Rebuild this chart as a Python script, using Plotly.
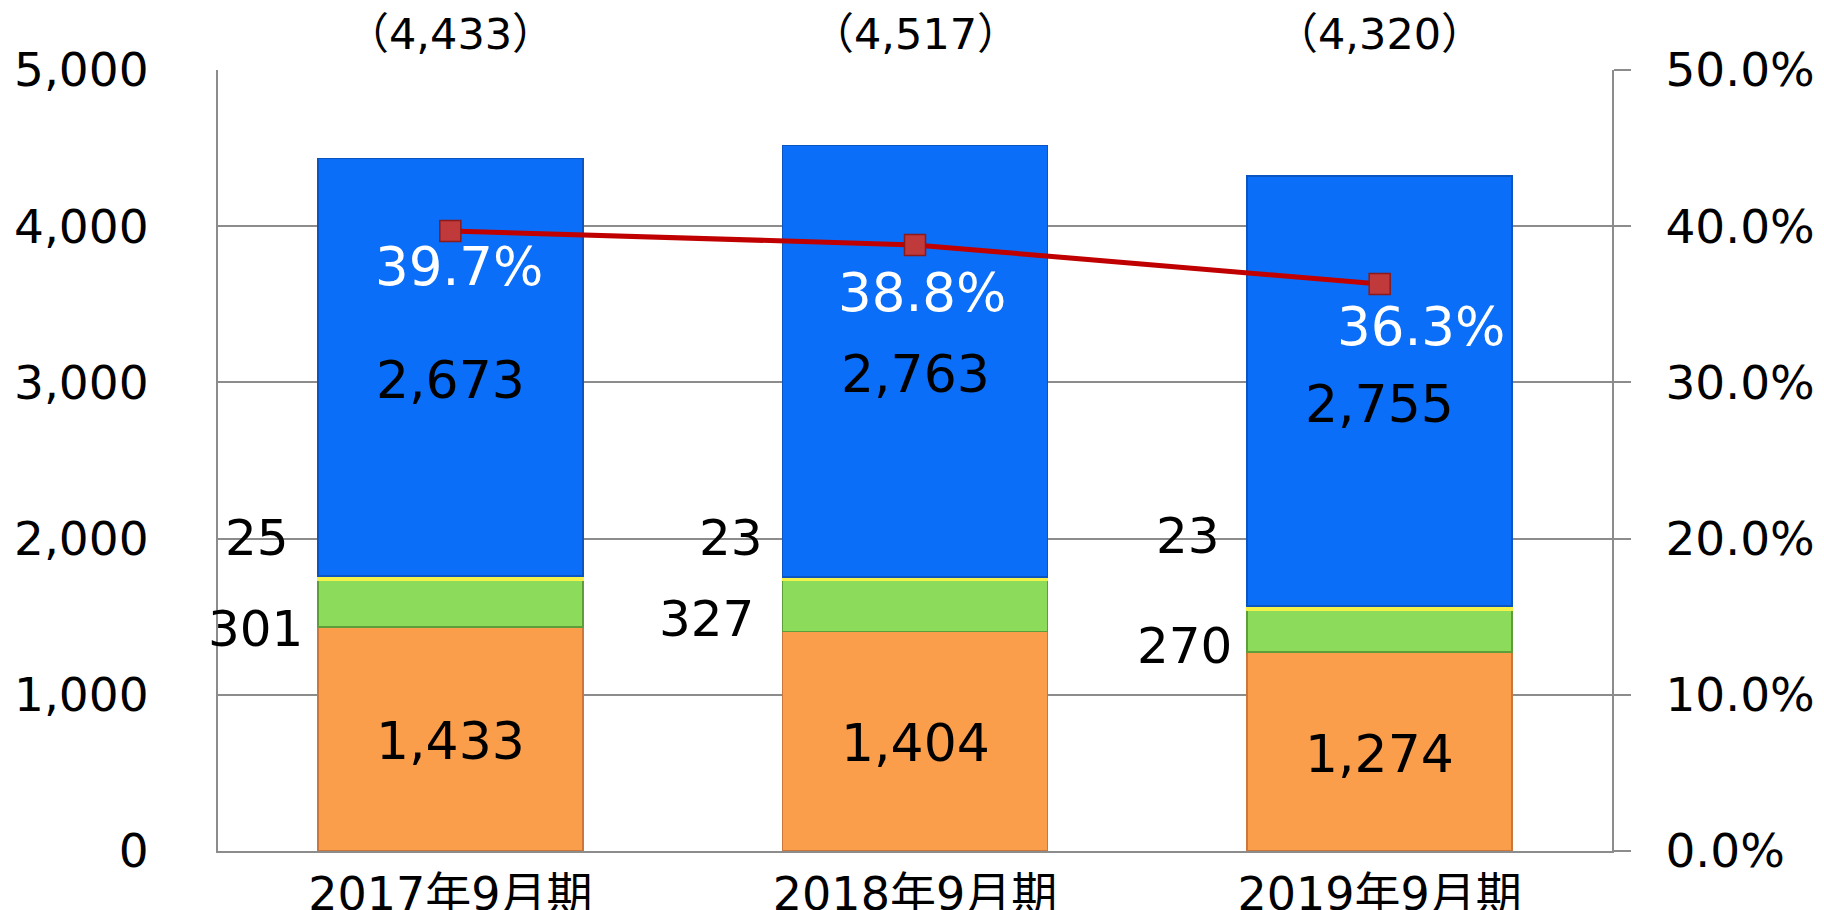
import plotly.graph_objects as go

categories = ["2017年9月期", "2018年9月期", "2019年9月期"]
orange_vals = [1433, 1404, 1274]
green_vals = [301, 327, 270]
yellow_vals = [25, 23, 23]
blue_vals = [2673, 2763, 2755]
ratio_vals = [0.397, 0.388, 0.363]
totals = ["（4,433）", "（4,517）", "（4,320）"]

# label placement offsets (pixels)
ratio_label_offsets = [(9, -36), (7, -48), (41, -43)]
green_label_offsets = [(-145, -25), (-159, -13), (-146, -15)]
yellow_label_offsets = [(-159, 38), (-150, 39), (-158, 70)]

FONT = "DejaVu Sans, Noto Sans CJK JP, sans-serif"
GRID = "#8c8c8c"

fig = go.Figure()
bar_specs = [
    (orange_vals, "#FB9E4C", "#C9773A"),
    (green_vals, "#8CDB5A", "#5E9E3A"),
    (yellow_vals, "#F2F24A", "#F2F24A"),
    (blue_vals, "#0A6EF8", "#0A55C0"),
]
for vals, col, edge in bar_specs:
    fig.add_trace(go.Bar(
        x=categories, y=vals, marker=dict(color=col, line=dict(width=1.5, color=edge)),
        showlegend=False, hoverinfo="skip", cliponaxis=False,
    ))

fig.add_trace(go.Scatter(
    x=categories, y=ratio_vals, yaxis="y2", mode="lines+markers",
    line=dict(color="#C00000", width=5),
    marker=dict(symbol="square", size=21, color="#C0393B",
                line=dict(color="#8B1A1A", width=1.5)),
    showlegend=False, hoverinfo="skip",
))

annotations = []
for i, c in enumerate(categories):
    base_o = orange_vals[i]
    base_g = base_o + green_vals[i]
    base_y = base_g + yellow_vals[i]
    annotations.append(dict(x=c, y=5000, xref="x", yref="y", text=totals[i],
                            showarrow=False, yanchor="middle", yshift=36,
                            font=dict(family=FONT, size=43, color="black")))
    annotations.append(dict(x=c, y=base_o / 2, xref="x", yref="y",
                            text=f"{orange_vals[i]:,}", showarrow=False, yshift=-2,
                            font=dict(family=FONT, size=52, color="black")))
    annotations.append(dict(x=c, y=base_y + blue_vals[i] / 2, xref="x", yref="y",
                            text=f"{blue_vals[i]:,}", showarrow=False, yshift=-13,
                            font=dict(family=FONT, size=52, color="black")))
    gx, gy = green_label_offsets[i]
    annotations.append(dict(x=c, y=base_o + green_vals[i] / 2, xref="x", yref="y",
                            text=f"{green_vals[i]:,}", showarrow=False,
                            xanchor="right", xshift=gx, yshift=gy,
                            font=dict(family=FONT, size=50, color="black")))
    yx, yy = yellow_label_offsets[i]
    annotations.append(dict(x=c, y=base_y, xref="x", yref="y",
                            text=f"{yellow_vals[i]:,}", showarrow=False,
                            xanchor="right", xshift=yx, yshift=yy,
                            font=dict(family=FONT, size=50, color="black")))
    dx, dy = ratio_label_offsets[i]
    annotations.append(dict(x=c, y=ratio_vals[i], xref="x", yref="y2",
                            text=f"{ratio_vals[i]*100:.1f}%", showarrow=False,
                            xshift=dx, yshift=dy,
                            font=dict(family=FONT, size=53, color="white")))

fig.update_layout(
    barmode="stack", bargap=0.43,
    width=1816, height=902,
    margin=dict(l=210, r=212, t=62, b=59),
    plot_bgcolor="white", paper_bgcolor="white",
    font=dict(family=FONT, color="black"),
    xaxis=dict(range=[-0.5, 2.5], autorange=False, showline=True, linecolor=GRID,
               linewidth=2, mirror=False, automargin=False,
               tickfont=dict(family=FONT, size=46), ticks="", ticklabelstandoff=2),
    yaxis=dict(range=[0, 5000], dtick=1000, tickformat=",", showgrid=True, automargin=False,
               gridcolor=GRID, gridwidth=2, showline=True, linecolor=GRID, linewidth=2,
               ticks="", tickfont=dict(family=FONT, size=47), ticklabelstandoff=58,
               zeroline=False),
    yaxis2=dict(range=[0, 0.5], dtick=0.1, tickformat=".1%", overlaying="y", side="right",
                showgrid=False, showline=True, linecolor=GRID, linewidth=2, automargin=False,
                ticks="outside", ticklen=17, tickcolor=GRID, tickwidth=2,
                tickfont=dict(family=FONT, size=47), ticklabelstandoff=25, zeroline=False),
    annotations=annotations,
)

fig.write_html("out.html")
